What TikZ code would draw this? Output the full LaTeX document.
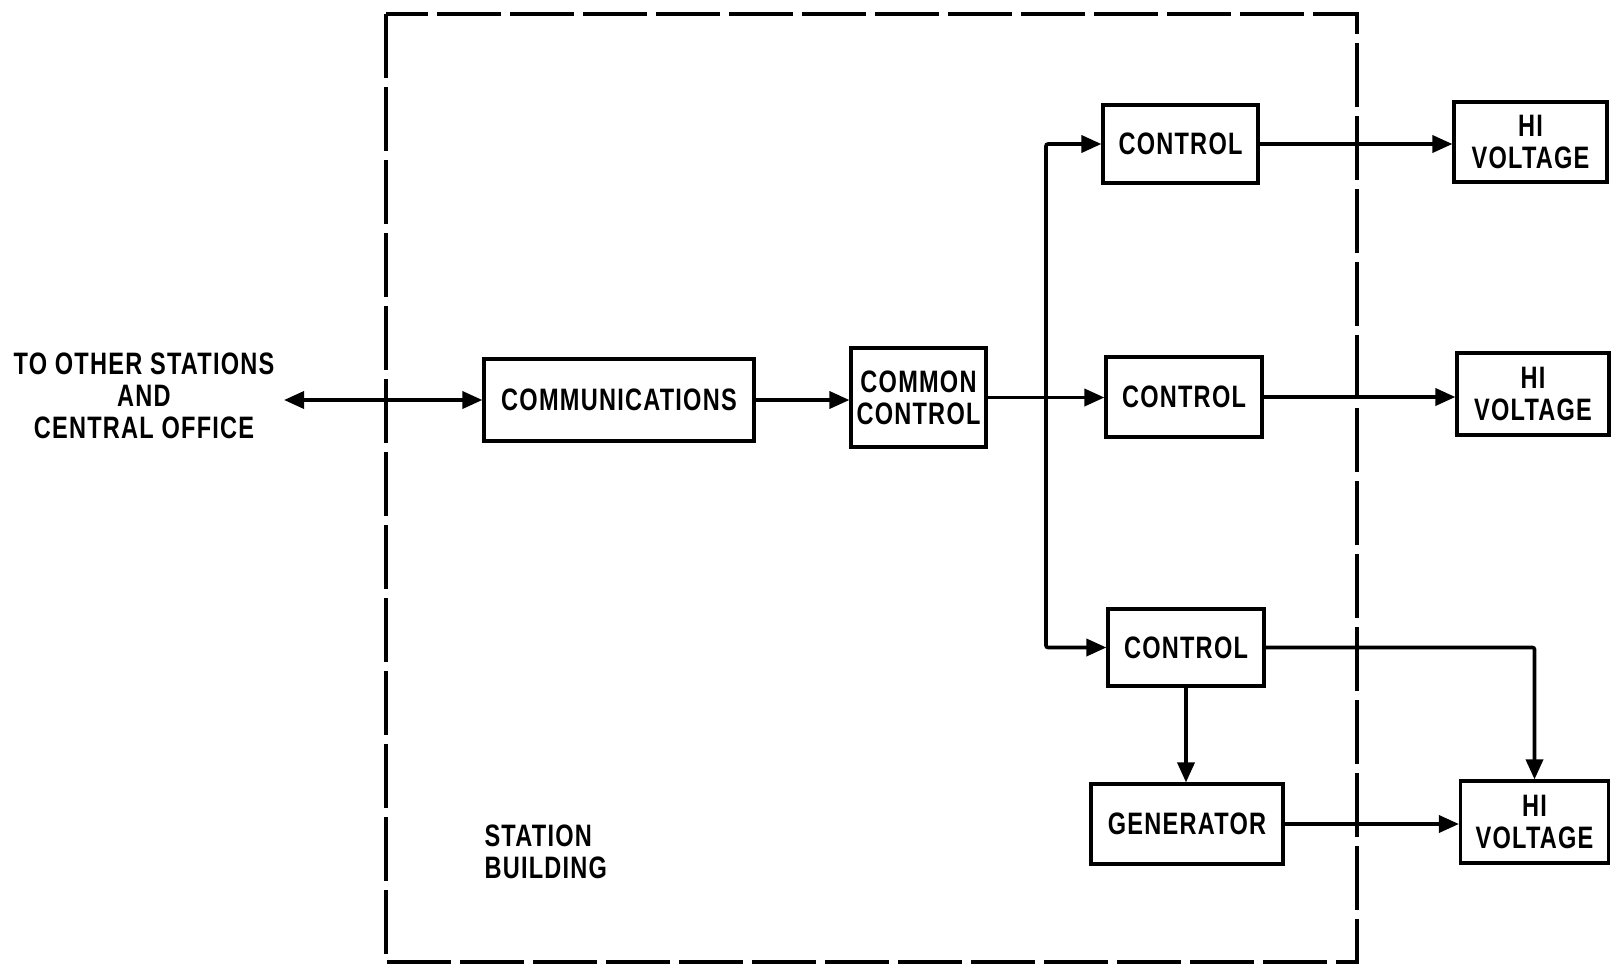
\documentclass[tikz,border=0pt]{standalone}
\usepackage{fontspec}
\setmainfont{Liberation Sans}[FakeStretch=0.76,LetterSpace=4]
\usetikzlibrary{arrows.meta}
\begin{document}
\begin{tikzpicture}[x=1pt,y=-1pt,
  txt/.style={font=\fontsize{31}{32}\selectfont\bfseries, align=center},
  blk/.style={txt, draw, line width=3.2pt, inner sep=0pt},
  tip/.style={},
  arr/.style={line width=3.6pt, -{Triangle[length=20pt,width=17pt]}},
  twoarr/.style={line width=3.6pt, {Triangle[length=20pt,width=17pt]}-{Triangle[length=20pt,width=17pt]}},
  bldg/.style={line width=3.6pt, dash pattern=on 64pt off 9pt}]
\useasboundingbox (0,0) rectangle (1611,966);

% station building outline
\draw[bldg] (386,14) rectangle (1357,962);
\node[txt, anchor=west, align=left] (bldglbl) at (481,852) {STATION\\BUILDING};

% outside link
\node[txt] (dest) at (144,396) {TO OTHER STATIONS\\AND\\CENTRAL OFFICE};
\coordinate (ext) at (284,400);

% blocks
\node[blk, minimum width=270pt, minimum height=82pt] (comm) at (619,400) {COMMUNICATIONS};
\node[blk, minimum width=135pt, minimum height=99pt] (common) at (918.5,397.5) {COMMON\\CONTROL};
\node[blk, minimum width=155pt, minimum height=78pt] (ctl1) at (1180.5,144) {CONTROL};
\node[blk, minimum width=156pt, minimum height=80pt] (ctl2) at (1184,397) {CONTROL};
\node[blk, minimum width=156pt, minimum height=77pt] (ctl3) at (1186,647.5) {CONTROL};
\node[blk, minimum width=192pt, minimum height=80pt] (gen) at (1187,824) {GENERATOR};
\node[blk, minimum width=153pt, minimum height=80pt] (hv1) at (1530.5,142) {HI\\VOLTAGE};
\node[blk, minimum width=152pt, minimum height=82pt] (hv2) at (1533,394) {HI\\VOLTAGE};
\node[blk, minimum width=148pt, minimum height=82pt] (hv3) at (1534.5,822) {HI\\VOLTAGE};

% distribution bus
\coordinate (bus) at (1046,398);

% connectors
\draw[twoarr] (ext) -- (comm.west);
\draw[arr] (comm.east) -- (comm.east -| common.west);
\draw[arr] (common.east) -- (common.east -| ctl2.west);
\draw[arr, rounded corners=2pt] (bus) |- (ctl1.west);
\draw[arr, rounded corners=2pt] (bus) |- (ctl3.west);
\draw[arr] (ctl1.east) -- (ctl1.east -| hv1.west);
\draw[arr] (ctl2.east) -- (ctl2.east -| hv2.west);
\draw[arr, rounded corners=2pt] (ctl3.east) -| (hv3.north);
\draw[arr] (ctl3.south) -- (ctl3.south |- gen.north);
\draw[arr] (gen.east) -- (gen.east -| hv3.west);
\end{tikzpicture}
\end{document}
